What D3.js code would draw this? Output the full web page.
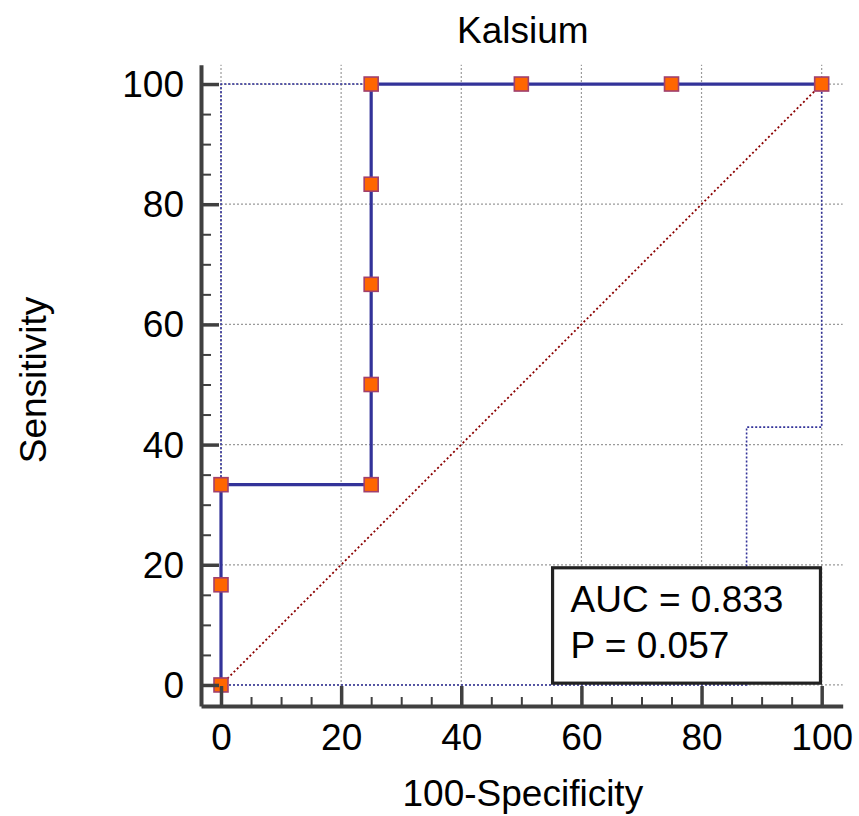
<!DOCTYPE html>
<html><head><meta charset="utf-8">
<script src="https://cdn.jsdelivr.net/npm/d3@7"></script>
<style>
html,body{margin:0;padding:0;background:#fff;}
text{font-family:"Liberation Sans",Arial,Helvetica,sans-serif;fill:#000;}
</style></head>
<body>
<svg id="c" width="859" height="816"></svg>
<script>
// ---- data ----
const title = "Kalsium";
const xLabel = "100-Specificity";
const yLabel = "Sensitivity";
const rocX = [0, 0, 0, 25, 25, 25, 25, 25, 50, 75, 100];
const rocY = [0, 16.67, 33.33, 33.33, 50, 66.67, 83.33, 100, 100, 100, 100];
const upperX = [0, 0, 100];
const upperY = [0, 100, 100];
const lowerX = [0, 87.5, 87.5, 100, 100];
const lowerY = [0, 0, 42.9, 42.9, 100];
const majorTicks = [0, 20, 40, 60, 80, 100];
const minorTicks = [5, 10, 15, 25, 30, 35, 45, 50, 55, 65, 70, 75, 85, 90, 95];
const statLines = ["AUC = 0.833", "P = 0.057"];

// ---- drawing ----
const svg = d3.select("#c");
const x = d3.scaleLinear().domain([-3.33, 103.5]).range([201, 842.7]);
const y = d3.scaleLinear().domain([-3.5, 103.2]).range([706, 64.8]);
const FS = 37;

// grid
const grid = svg.append("g").attr("stroke", "#9a9a9a").attr("stroke-width", 1.2).attr("stroke-dasharray", "2,2");
grid.selectAll(".gv").data(majorTicks).join("line")
  .attr("x1", d => x(d)).attr("x2", d => x(d)).attr("y1", y.range()[0]).attr("y2", y.range()[1]);
grid.selectAll(".gh").data(majorTicks).join("line")
  .attr("y1", d => y(d)).attr("y2", d => y(d)).attr("x1", x.range()[0]).attr("x2", x.range()[1]);

const line = d3.line().x(d => x(d[0])).y(d => y(d[1]));

// confidence bounds
svg.append("path").datum(d3.zip(upperX, upperY)).attr("d", line)
  .attr("fill", "none").attr("stroke", "#333399").attr("stroke-width", 1.6).attr("stroke-dasharray", "2,2");
svg.append("path").datum(d3.zip(lowerX, lowerY)).attr("d", line)
  .attr("fill", "none").attr("stroke", "#333399").attr("stroke-width", 1.6).attr("stroke-dasharray", "2,2");

// diagonal
svg.append("path").datum([[0, 0], [100, 100]]).attr("d", line)
  .attr("fill", "none").attr("stroke", "#8b0000").attr("stroke-width", 1.8).attr("stroke-dasharray", "2,2.5");

// ROC curve
const roc = d3.zip(rocX, rocY);
svg.append("path").datum(roc).attr("d", line)
  .attr("fill", "none").attr("stroke", "#333399").attr("stroke-width", 3.2);

// markers
const ms = 14;
svg.selectAll(".m").data(roc).join("rect")
  .attr("x", d => x(d[0]) - ms / 2).attr("y", d => y(d[1]) - ms / 2)
  .attr("width", ms).attr("height", ms)
  .attr("fill", "#ff6600").attr("stroke", "#a0406e").attr("stroke-width", 1.6);

// stats box
const bx = x(55.2), by = y(19.5), bw = x(99.8) - bx, bh = y(0.3) - by;
svg.append("rect").attr("x", bx).attr("y", by).attr("width", bw).attr("height", bh)
  .attr("fill", "#fff").attr("stroke", "#222").attr("stroke-width", 3.2);
svg.selectAll(".st").data(statLines).join("text")
  .attr("x", bx + 18).attr("y", (d, i) => by + 44 + i * 46)
  .attr("font-size", FS).text(d => d);

// axes
const axColor = "#404040";
const yAxis = svg.append("g").attr("transform", `translate(${x.range()[0]},0)`)
  .call(d3.axisLeft(y).tickValues(majorTicks).tickSizeInner(-18).tickSizeOuter(0).tickPadding(17));
const yMinor = svg.append("g").attr("transform", `translate(${x.range()[0]},0)`)
  .call(d3.axisLeft(y).tickValues(minorTicks).tickSizeInner(-10).tickSizeOuter(0).tickFormat(""));
const xAxis = svg.append("g").attr("transform", `translate(0,${y.range()[0]})`)
  .call(d3.axisBottom(x).tickValues(majorTicks).tickSizeInner(-20).tickSizeOuter(0).tickPadding(18));
const xMinor = svg.append("g").attr("transform", `translate(0,${y.range()[0]})`)
  .call(d3.axisBottom(x).tickValues(minorTicks).tickSizeInner(-9).tickSizeOuter(0).tickFormat(""));

[yAxis, xAxis].forEach(g => {
  g.select(".domain").attr("stroke", axColor).attr("stroke-width", 4);
  g.selectAll(".tick line").attr("stroke", axColor).attr("stroke-width", 3.5);
  g.selectAll(".tick text").attr("font-size", FS).attr("font-family", "Liberation Sans, Arial, sans-serif").attr("fill", "#000");
});
[yMinor, xMinor].forEach(g => {
  g.select(".domain").remove();
  g.selectAll(".tick line").attr("stroke", axColor).attr("stroke-width", 2);
});
yAxis.selectAll(".tick text").attr("dy", "0.34em");

// titles
svg.append("text").attr("x", (x.range()[0] + x.range()[1]) / 2 + 1).attr("y", 43)
  .attr("text-anchor", "middle").attr("font-size", FS).text(title);
svg.append("text").attr("x", (x.range()[0] + x.range()[1]) / 2 + 1).attr("y", 806)
  .attr("text-anchor", "middle").attr("font-size", FS).text(xLabel);
svg.append("text").attr("transform", `translate(46,380)rotate(-90)`)
  .attr("text-anchor", "middle").attr("font-size", FS).text(yLabel);
</script>
</body></html>
